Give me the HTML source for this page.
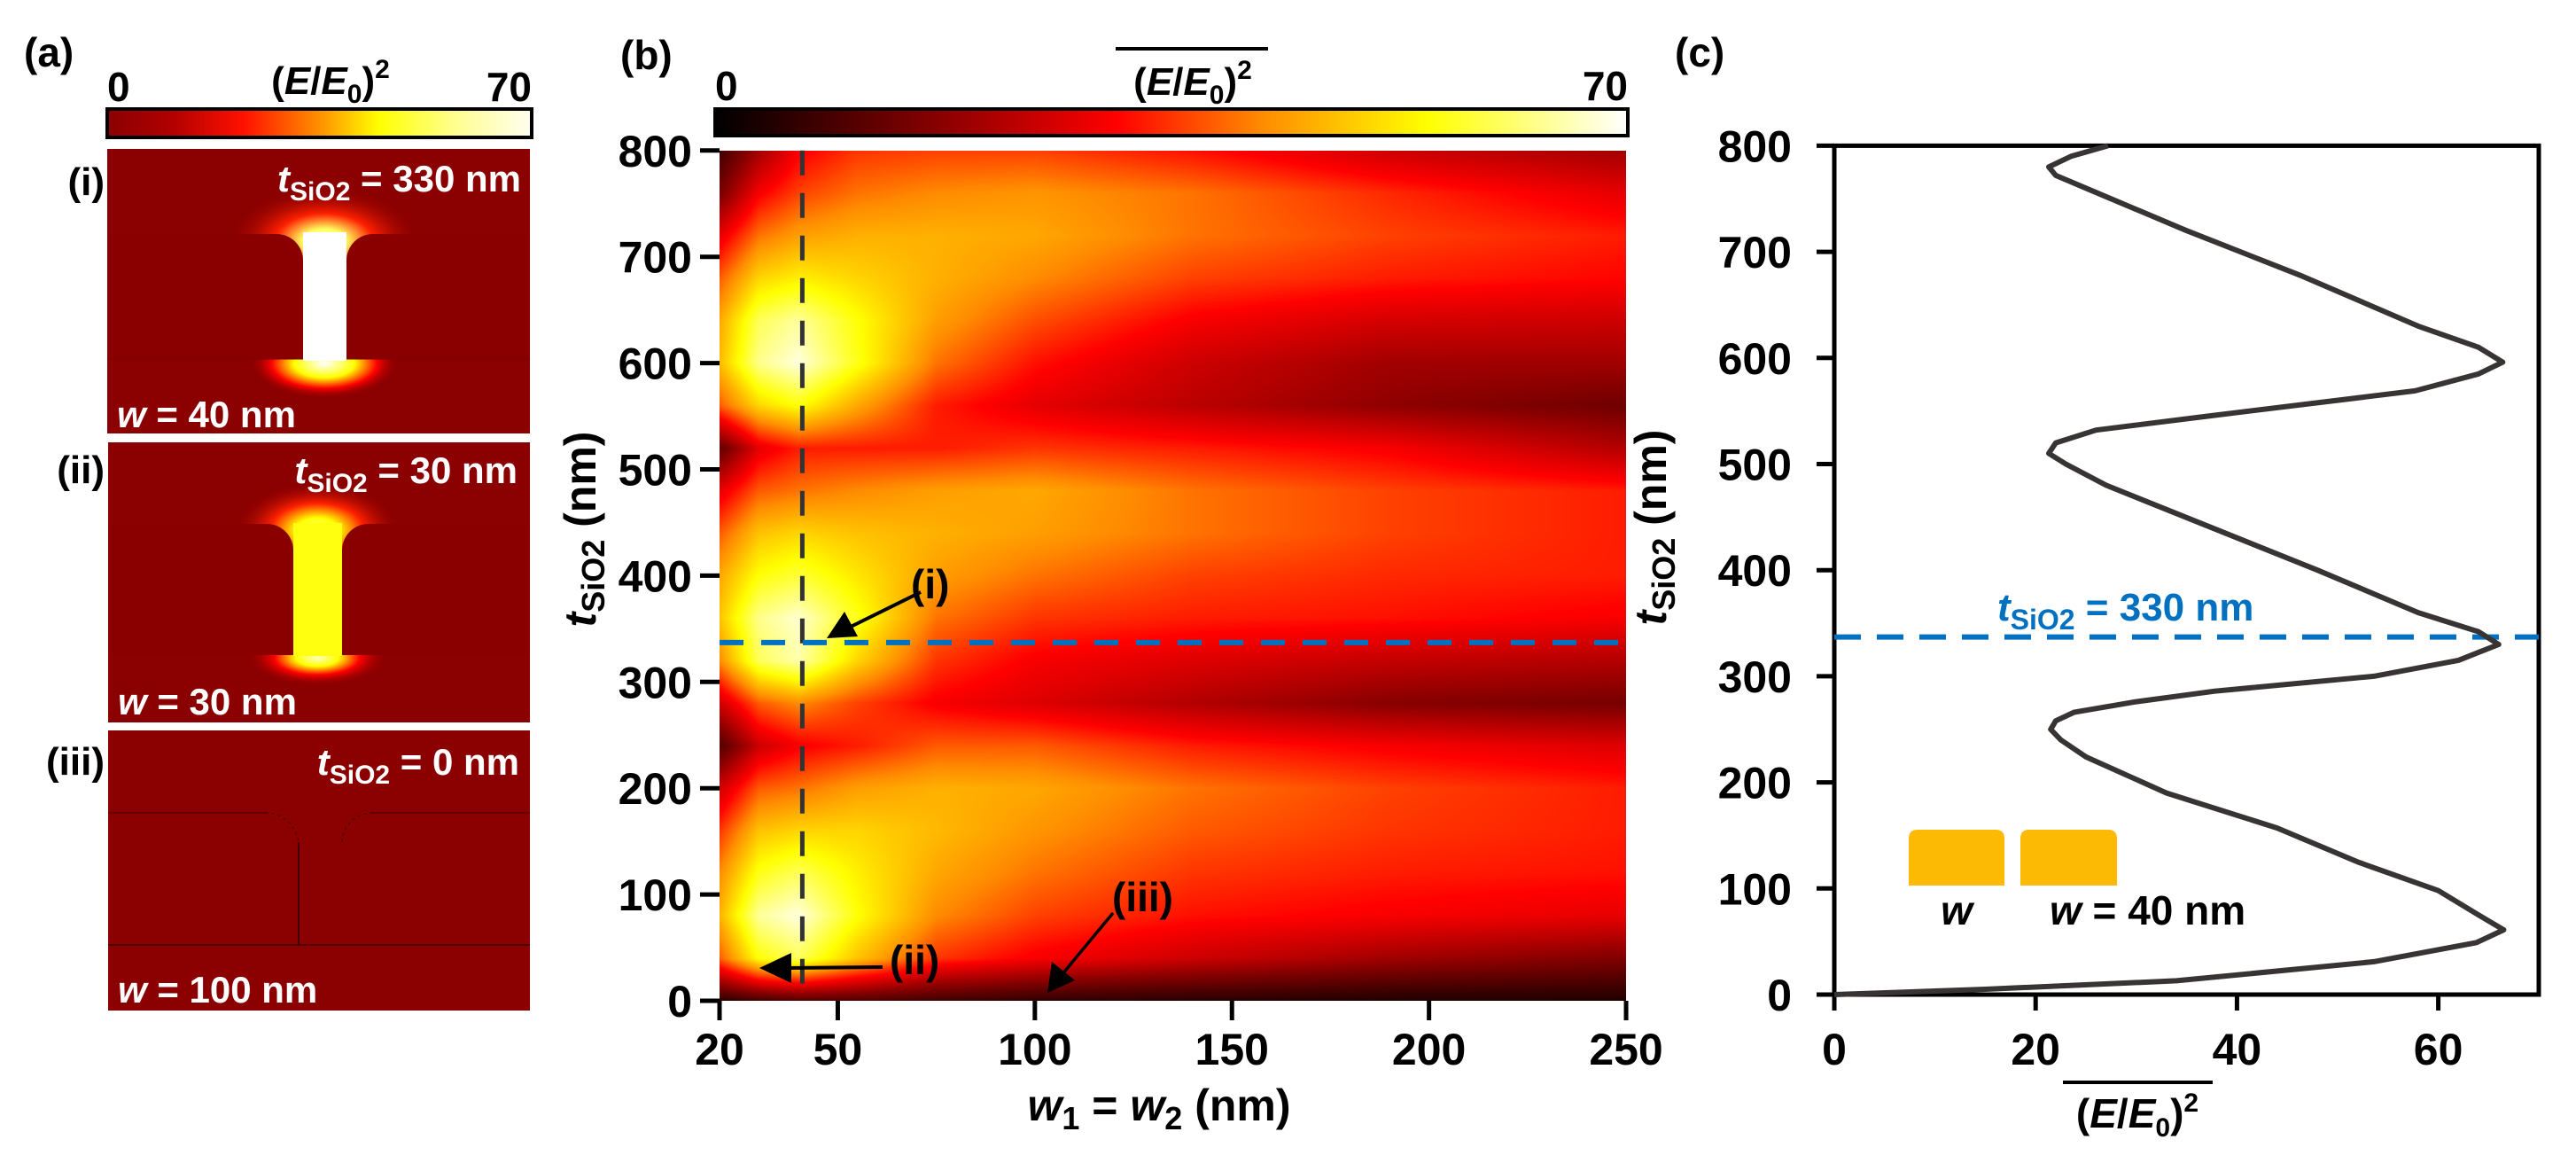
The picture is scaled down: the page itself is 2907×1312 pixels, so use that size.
<!DOCTYPE html>
<html><head><meta charset="utf-8">
<style>
html,body{margin:0;padding:0;background:#fff;}
#wrap{position:relative;width:2907px;height:1312px;overflow:hidden;font-family:"Liberation Sans",Arial,sans-serif;}
#heat{position:absolute;left:812px;top:170px;}
#svg{position:absolute;left:0;top:0;}
text{font-family:"Liberation Sans",Arial,sans-serif;font-weight:bold;}
</style></head>
<body>
<div id="wrap">
<canvas id="heat" width="1023" height="959"></canvas>
<svg id="svg" width="2907" height="1312" xmlns="http://www.w3.org/2000/svg">
<defs>
 <linearGradient id="cbA" x1="0" x2="1" y1="0" y2="0">
  <stop offset="0" stop-color="#8b0000"/><stop offset="0.15" stop-color="#b00000"/>
  <stop offset="0.32" stop-color="#ff1000"/><stop offset="0.5" stop-color="#ff9000"/>
  <stop offset="0.64" stop-color="#ffff00"/><stop offset="0.82" stop-color="#ffff90"/>
  <stop offset="1" stop-color="#fffdf0"/>
 </linearGradient>
 <linearGradient id="cbB" x1="0" x2="1" y1="0" y2="0">
  <stop offset="0" stop-color="#000"/><stop offset="0.25" stop-color="#8b0000"/>
  <stop offset="0.44" stop-color="#ff0000"/><stop offset="0.6" stop-color="#ff8c00"/>
  <stop offset="0.78" stop-color="#ffff00"/><stop offset="1" stop-color="#ffffff"/>
 </linearGradient>
 <radialGradient id="glowTopI"><stop offset="0" stop-color="#ffffff"/><stop offset="0.22" stop-color="#ffff60"/><stop offset="0.5" stop-color="#ff2000"/><stop offset="1" stop-color="#8b0000" stop-opacity="0"/></radialGradient>
 <radialGradient id="glowBotI"><stop offset="0" stop-color="#ffffff"/><stop offset="0.4" stop-color="#ffff00"/><stop offset="0.7" stop-color="#ff0000"/><stop offset="1" stop-color="#8b0000" stop-opacity="0"/></radialGradient>
 <radialGradient id="glowTopII"><stop offset="0" stop-color="#ffff90"/><stop offset="0.25" stop-color="#ffff00"/><stop offset="0.55" stop-color="#ff2000"/><stop offset="1" stop-color="#8b0000" stop-opacity="0"/></radialGradient>
 <radialGradient id="glowBotII"><stop offset="0" stop-color="#ffffc0"/><stop offset="0.3" stop-color="#ffff00"/><stop offset="0.6" stop-color="#ff0000"/><stop offset="1" stop-color="#8b0000" stop-opacity="0"/></radialGradient>
</defs>

<!-- Panel (a) -->
<text x="27" y="75" font-size="46">(a)</text>
<text x="121" y="114" font-size="46">0</text>
<text x="600" y="114" font-size="46" text-anchor="end">70</text>
<text x="373" y="106" font-size="44" text-anchor="middle">(<tspan font-style="italic">E</tspan>/<tspan font-style="italic">E</tspan><tspan font-size="30" dy="10">0</tspan><tspan dy="-10">)</tspan><tspan font-size="30" dy="-18">2</tspan></text>
<rect x="121" y="123" width="479" height="32" fill="url(#cbA)" stroke="#000" stroke-width="4"/>

<g>
 <rect x="121" y="168" width="477" height="321" fill="#8b0000"/>
 <ellipse cx="366" cy="272" rx="110" ry="62" fill="url(#glowTopI)"/>
 <ellipse cx="366" cy="410" rx="85" ry="40" fill="url(#glowBotI)"/>
 <rect x="342" y="262" width="49" height="145" fill="#ffffff"/>
 <path d="M121 264 H312 A30 30 0 0 1 342 294 V405 H121 Z" fill="#8a0000"/>
 <path d="M598 264 H421 A30 30 0 0 0 391 294 V405 H598 Z" fill="#8a0000"/>
 <line x1="121" y1="405" x2="342" y2="405" stroke="#7d0000" stroke-width="1"/>
 <line x1="391" y1="405" x2="598" y2="405" stroke="#7d0000" stroke-width="1"/>
</g>
<text x="118" y="220" font-size="44" text-anchor="end">(i)</text>
<text x="588" y="216" font-size="42" fill="#fff" text-anchor="end"><tspan font-style="italic">t</tspan><tspan font-size="30" dy="10">SiO2</tspan><tspan dy="-10"> = 330 nm</tspan></text>
<text x="132" y="482" font-size="42" fill="#fff"><tspan font-style="italic">w</tspan> = 40 nm</text>

<g>
 <rect x="122" y="499" width="476" height="316" fill="#8b0000"/>
 <ellipse cx="358" cy="598" rx="95" ry="55" fill="url(#glowTopII)"/>
 <ellipse cx="358" cy="742" rx="80" ry="32" fill="url(#glowBotII)"/>
 <rect x="331" y="590" width="55" height="150" fill="#ffff10"/>
 <path d="M122 591 H301 A30 30 0 0 1 331 621 V739 H122 Z" fill="#8a0000"/>
 <path d="M598 591 H416 A30 30 0 0 0 386 621 V739 H598 Z" fill="#8a0000"/>
</g>
<text x="118" y="545" font-size="44" text-anchor="end">(ii)</text>
<text x="584" y="545" font-size="42" fill="#fff" text-anchor="end"><tspan font-style="italic">t</tspan><tspan font-size="30" dy="10">SiO2</tspan><tspan dy="-10"> = 30 nm</tspan></text>
<text x="133" y="806" font-size="42" fill="#fff"><tspan font-style="italic">w</tspan> = 30 nm</text>

<g>
 <rect x="122" y="824" width="476" height="316" fill="#8b0000"/>
 <line x1="122" y1="917" x2="300" y2="917" stroke="#5a0000" stroke-width="1.5"/>
 <line x1="420" y1="917" x2="598" y2="917" stroke="#5a0000" stroke-width="1.5"/>
 <path d="M300 917 A37 37 0 0 1 337 954" fill="none" stroke="#5a0000" stroke-width="1.5" stroke-dasharray="3 4"/>
 <path d="M420 917 A34 34 0 0 0 386 951" fill="none" stroke="#5a0000" stroke-width="1.5" stroke-dasharray="3 4"/>
 <line x1="337" y1="950" x2="337" y2="1066" stroke="#2a0000" stroke-width="1.5"/>
 <line x1="122" y1="1066" x2="598" y2="1066" stroke="#3a0000" stroke-width="1.5"/>
</g>
<text x="118" y="874" font-size="44" text-anchor="end">(iii)</text>
<text x="586" y="874" font-size="42" fill="#fff" text-anchor="end"><tspan font-style="italic">t</tspan><tspan font-size="30" dy="10">SiO2</tspan><tspan dy="-10"> = 0 nm</tspan></text>
<text x="133" y="1131" font-size="42" fill="#fff"><tspan font-style="italic">w</tspan> = 100 nm</text>

<!-- Panel (b) -->
<text x="700" y="78" font-size="46">(b)</text>
<text x="807" y="113" font-size="46">0</text>
<text x="1837" y="113" font-size="46" text-anchor="end">70</text>
<text x="1346" y="107" font-size="44" text-anchor="middle">(<tspan font-style="italic">E</tspan>/<tspan font-style="italic">E</tspan><tspan font-size="30" dy="10">0</tspan><tspan dy="-10">)</tspan><tspan font-size="30" dy="-18">2</tspan></text>
<line x1="1259" y1="55" x2="1431" y2="55" stroke="#000" stroke-width="4"/>
<rect x="807" y="123" width="1030" height="30" fill="url(#cbB)" stroke="#000" stroke-width="4"/>
<g id="axesB"></g>
<text transform="translate(672,597) rotate(-90)" font-size="50" text-anchor="middle"><tspan font-style="italic">t</tspan><tspan font-size="36" dy="10">SiO2</tspan><tspan dy="-10"> (nm)</tspan></text>
<text x="1308" y="1264" font-size="50" text-anchor="middle"><tspan font-style="italic">w</tspan><tspan font-size="36" dy="10">1</tspan><tspan dy="-10"> = </tspan><tspan font-style="italic">w</tspan><tspan font-size="36" dy="10">2</tspan><tspan dy="-10"> (nm)</tspan></text>
<g>
 <text x="1028" y="675" font-size="46">(i)</text>
 <line x1="1039" y1="668" x2="960" y2="707" stroke="#000" stroke-width="4"/>
 <polygon points="933,720 953,690 968,718" fill="#000"/>
 <text x="1004" y="1099" font-size="46">(ii)</text>
 <line x1="996" y1="1091" x2="885" y2="1092" stroke="#000" stroke-width="4"/>
 <polygon points="857,1092 893,1075 893,1109" fill="#000"/>
 <text x="1255" y="1028" font-size="46">(iii)</text>
 <line x1="1256" y1="1030" x2="1198" y2="1100" stroke="#000" stroke-width="3.5"/>
 <polygon points="1182,1120 1187,1085 1213,1106" fill="#000"/>
</g>

<!-- Panel (c) -->
<text x="1890" y="75" font-size="46">(c)</text>
<g id="axesC"></g>
<text transform="translate(1880,595) rotate(-90)" font-size="50" text-anchor="middle"><tspan font-style="italic">t</tspan><tspan font-size="36" dy="10">SiO2</tspan><tspan dy="-10"> (nm)</tspan></text>
<text x="2412" y="1272" font-size="46" text-anchor="middle">(<tspan font-style="italic">E</tspan>/<tspan font-style="italic">E</tspan><tspan font-size="30" dy="10">0</tspan><tspan dy="-10">)</tspan><tspan font-size="30" dy="-18">2</tspan></text>
<line x1="2328" y1="1221" x2="2497" y2="1221" stroke="#000" stroke-width="4"/>
<text x="2254" y="700" font-size="44" fill="#0070C0"><tspan font-style="italic">t</tspan><tspan font-size="32" dy="10">SiO2</tspan><tspan dy="-10"> = 330 nm</tspan></text>
<g>
 <path d="M2154 999 V946 Q2154 936 2164 936 H2252 Q2262 936 2262 946 V999 Z" fill="#FDBA05"/>
 <path d="M2280 999 V946 Q2280 936 2290 936 H2379 Q2389 936 2389 946 V999 Z" fill="#FDBA05"/>
 <text x="2208" y="1043" font-size="46" text-anchor="middle" font-style="italic">w</text>
 <text x="2313" y="1043" font-size="46"><tspan font-style="italic">w</tspan> = 40 nm</text>
</g>
</svg>
</div>
<script>
// ---------- Panel (b) heatmap data ----------
const wCols = [20, 30, 40, 55, 75, 100, 140, 190, 250];
const tRows = [0, 40, 80, 120, 160, 200, 240, 280, 320, 360, 400, 440, 480, 520, 560, 600, 640, 680, 720, 760, 800];
const zRows = [
 [5, 8, 10, 10, 8, 6, 5, 4, 4],
 [38, 55, 60, 48, 35, 30, 25, 20, 16],
 [46, 64, 68, 55, 42, 36, 32, 30, 28],
 [42, 56, 60, 53, 45, 40, 35, 33, 32],
 [35, 48, 50, 50, 47, 43, 38, 35, 33],
 [25, 38, 40, 44, 46, 45, 40, 36, 33],
 [10, 25, 30, 33, 38, 38, 33, 30, 27],
 [25, 38, 42, 36, 30, 27, 22, 17, 15],
 [42, 60, 65, 50, 35, 30, 27, 24, 22],
 [48, 63, 67, 56, 40, 35, 33, 32, 30],
 [45, 55, 58, 52, 44, 40, 36, 34, 33],
 [38, 48, 50, 48, 46, 44, 40, 36, 33],
 [28, 38, 40, 42, 44, 45, 40, 36, 33],
 [12, 28, 33, 33, 33, 35, 33, 30, 22],
 [38, 50, 55, 45, 33, 28, 23, 18, 14],
 [47, 63, 68, 56, 40, 32, 25, 20, 20],
 [45, 60, 64, 55, 44, 37, 30, 26, 25],
 [38, 50, 53, 50, 46, 42, 36, 33, 31],
 [28, 40, 44, 46, 46, 45, 40, 36, 33],
 [15, 30, 36, 40, 42, 43, 40, 34, 28],
 [8, 20, 30, 35, 36, 36, 32, 25, 20]
];
const bXTicks = [20, 50, 100, 150, 200, 250];
const bYTicks = [0, 100, 200, 300, 400, 500, 600, 700, 800];
const markW = 41;
const markT = 337;

// ---------- Panel (c) line data ----------
const cT = [0,5,13,31,49,61,75,98,125,157,190,224,240,250,258,266,276,286,300,315,330,342,360,400,440,480,500,510,520,532,545,569,585,596,610,630,677,720,760,772,780,790,800];
const cV = [0,15,34,53.6,63.8,66.5,64,60,52,44,33,25,22.5,21.5,22,23.8,30,37.8,53.6,62,66,64,58,48,37.5,27,23,21.3,22,26,37,57.7,64,66.4,64,58,46.5,35,25,22,21.3,23.5,27.2];
const cXTicks = [0, 20, 40, 60];
const cYTicks = [0, 100, 200, 300, 400, 500, 600, 700, 800];

const NS = "http://www.w3.org/2000/svg";
function mk(tag, attrs, parent) {
  const e = document.createElementNS(NS, tag);
  for (const k in attrs) e.setAttribute(k, attrs[k]);
  parent.appendChild(e);
  return e;
}

const bx = w => 812 + (w - 20) * 4.448;
const by = t => 1129 - t * 1.199;
const cx = v => 2070 + v * 11.36;
const cy = t => 1122 - t * 1.197;

const cmStops = [[0,[0,0,0]],[17.5,[139,0,0]],[30.8,[255,0,0]],[42,[255,140,0]],[54.6,[255,255,0]],[70,[255,255,255]]];
function cmap(v) {
  if (v <= 0) return cmStops[0][1];
  for (let i = 1; i < cmStops.length; i++) {
    if (v <= cmStops[i][0]) {
      const a = cmStops[i-1], b = cmStops[i];
      const f = (v - a[0]) / (b[0] - a[0]);
      return [0,1,2].map(k => a[1][k] + (b[1][k] - a[1][k]) * f);
    }
  }
  return [255,255,255];
}
function locate(arr, v) {
  let i = 0;
  while (i < arr.length - 2 && v > arr[i+1]) i++;
  const f = Math.max(0, Math.min(1, (v - arr[i]) / (arr[i+1] - arr[i])));
  return [i, f];
}
(function(){
  const cv = document.getElementById('heat');
  const ctx = cv.getContext('2d');
  const W = cv.width, H = cv.height;
  const img = ctx.createImageData(W, H);
  const y0 = by(800);
  for (let py = 0; py < H; py++) {
    const t = (1129 - (y0 + py + 0.5)) / 1.199;
    const [ti, tf] = locate(tRows, t);
    for (let px = 0; px < W; px++) {
      const w = 20 + (px + 0.5) / 4.448;
      const [wi, wf] = locate(wCols, w);
      const z00 = zRows[ti][wi], z01 = zRows[ti][wi+1], z10 = zRows[ti+1][wi], z11 = zRows[ti+1][wi+1];
      const z = (z00*(1-wf) + z01*wf)*(1-tf) + (z10*(1-wf) + z11*wf)*tf;
      const c = cmap(z);
      const o = (py * W + px) * 4;
      img.data[o] = c[0]; img.data[o+1] = c[1]; img.data[o+2] = c[2]; img.data[o+3] = 255;
    }
  }
  ctx.putImageData(img, 0, 0);
})();

(function(){
  const g = document.getElementById('axesB');
  bXTicks.forEach(v => {
    const tk = mk('line', {x1: bx(v), x2: bx(v), y1: by(0), y2: by(0) + 22, stroke: '#000', 'stroke-width': 5}, g);
    
    
    const tx = mk('text', {x: bx(v), y: 1201, 'font-size': 50, 'text-anchor': 'middle'}, g);
    tx.textContent = v;
    
    
  });
  bYTicks.forEach(v => {
    const tk = mk('line', {x1: bx(20) - 22, x2: bx(20), y1: by(v), y2: by(v), stroke: '#000', 'stroke-width': 5}, g);
    
    
    const tx = mk('text', {x: 781, y: by(v) + 18, 'font-size': 50, 'text-anchor': 'end'}, g);
    tx.textContent = v;
    
    
  });
  const vl = mk('line', {x1: bx(markW), x2: bx(markW), y1: by(800), y2: by(0) - 2, stroke: '#333', 'stroke-width': 5, 'stroke-dasharray': '28 20'}, g);
  
  
  const hl = mk('line', {x1: bx(20), x2: bx(250), y1: by(markT), y2: by(markT), stroke: '#0070C0', 'stroke-width': 6, 'stroke-dasharray': '27 20'}, g);
  
  
})();

(function(){
  const g = document.getElementById('axesC');
  const fr = mk('rect', {x: cx(0), y: cy(800), width: 2865 - cx(0), height: cy(0) - cy(800), fill: 'none', stroke: '#000', 'stroke-width': 5}, g);
  
  
  cXTicks.forEach(v => {
    const tk = mk('line', {x1: cx(v), x2: cx(v), y1: cy(0), y2: cy(0) + 18, stroke: '#000', 'stroke-width': 5}, g);
    
    
    const tx = mk('text', {x: cx(v), y: 1201, 'font-size': 50, 'text-anchor': 'middle'}, g);
    tx.textContent = v;
    
    
  });
  cYTicks.forEach(v => {
    const tk = mk('line', {x1: cx(0) - 20, x2: cx(0), y1: cy(v), y2: cy(v), stroke: '#000', 'stroke-width': 5}, g);
    
    
    const tx = mk('text', {x: 2022, y: cy(v) + 18, 'font-size': 50, 'text-anchor': 'end'}, g);
    tx.textContent = v;
    
    
  });
  const hl = mk('line', {x1: cx(0), x2: 2865, y1: cy(markT), y2: cy(markT), stroke: '#0070C0', 'stroke-width': 6, 'stroke-dasharray': '30 18'}, g);
  
  
  const pts = cT.map((t, i) => cx(cV[i]).toFixed(1) + ',' + cy(t).toFixed(1)).join(' ');
  const pl = mk('polyline', {points: pts, fill: 'none', stroke: '#383434', 'stroke-width': 6, 'stroke-linejoin': 'round'}, g);
  
  
})();
</script>
</body></html>
